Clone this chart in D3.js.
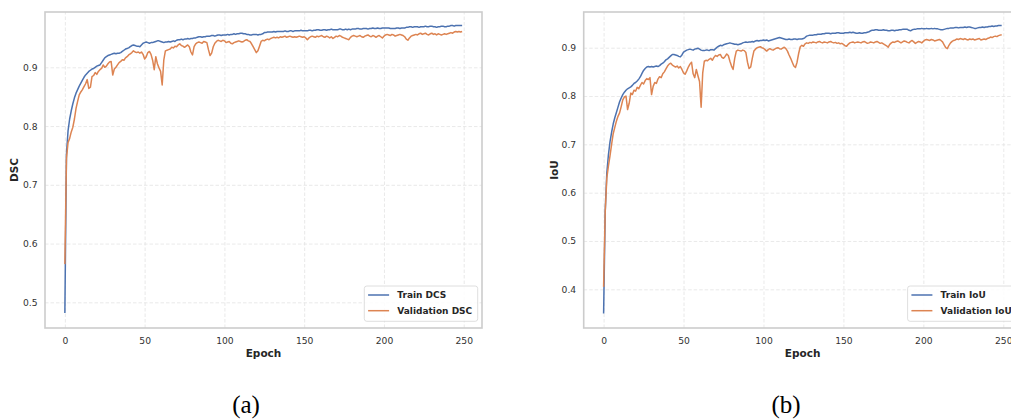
<!DOCTYPE html>
<html>
<head>
<meta charset="utf-8">
<script src="https://cdn.jsdelivr.net/npm/d3@7"></script>
<style>
  body { margin: 0; background: #fff; }
  svg { display: block; }
</style>
</head>
<body>
<div id="chart"></div>
<script>
// Per-epoch curves (250 epochs, 0..249)
const trainDSC = [
  0.482, 0.752, 0.792, 0.812, 0.826, 0.838, 0.848, 0.856, 0.862, 0.868,
  0.873, 0.878, 0.883, 0.887, 0.890, 0.893, 0.895, 0.897, 0.898, 0.900,
  0.902, 0.903, 0.904, 0.908, 0.912, 0.916, 0.918, 0.920, 0.921, 0.922,
  0.923, 0.924, 0.923, 0.924, 0.924, 0.925, 0.927, 0.929, 0.931, 0.932,
  0.933, 0.935, 0.937, 0.938, 0.937, 0.936, 0.936, 0.935, 0.938, 0.941,
  0.942, 0.943, 0.942, 0.941, 0.942, 0.942, 0.943, 0.944, 0.945, 0.945,
  0.944, 0.943, 0.942, 0.943, 0.943, 0.944, 0.943, 0.944, 0.945, 0.944,
  0.946, 0.947, 0.947, 0.948, 0.947, 0.948, 0.948, 0.949, 0.948, 0.949,
  0.949, 0.950, 0.950, 0.951, 0.952, 0.952, 0.951, 0.952, 0.952, 0.953,
  0.953, 0.953, 0.954, 0.954, 0.953, 0.954, 0.955, 0.955, 0.954, 0.955,
  0.955, 0.955, 0.956, 0.955, 0.956, 0.956, 0.957, 0.956, 0.957, 0.957,
  0.958, 0.958, 0.957, 0.957, 0.956, 0.956, 0.955, 0.955, 0.956, 0.956,
  0.956, 0.955, 0.956, 0.956, 0.957, 0.959, 0.959, 0.960, 0.960, 0.960,
  0.960, 0.961, 0.960, 0.961, 0.961, 0.961, 0.961, 0.961, 0.962, 0.961,
  0.961, 0.962, 0.962, 0.961, 0.962, 0.962, 0.962, 0.962, 0.963, 0.962,
  0.962, 0.962, 0.962, 0.963, 0.963, 0.962, 0.963, 0.963, 0.964, 0.964,
  0.963, 0.963, 0.964, 0.964, 0.963, 0.964, 0.964, 0.965, 0.964, 0.964,
  0.964, 0.964, 0.965, 0.965, 0.964, 0.964, 0.965, 0.964, 0.965, 0.964,
  0.965, 0.965, 0.965, 0.966, 0.966, 0.965, 0.965, 0.966, 0.966, 0.966,
  0.965, 0.966, 0.966, 0.967, 0.966, 0.966, 0.967, 0.966, 0.966, 0.967,
  0.967, 0.967, 0.967, 0.967, 0.966, 0.966, 0.966, 0.966, 0.967, 0.967,
  0.966, 0.967, 0.967, 0.967, 0.968, 0.968, 0.969, 0.969, 0.968, 0.969,
  0.969, 0.969, 0.968, 0.969, 0.969, 0.969, 0.970, 0.969, 0.969, 0.970,
  0.970, 0.969, 0.969, 0.968, 0.969, 0.969, 0.970, 0.970, 0.969, 0.969,
  0.970, 0.970, 0.971, 0.971, 0.970, 0.971, 0.971, 0.971, 0.971, 0.971
];
const valDSC = [
  0.565, 0.745, 0.772, 0.779, 0.790, 0.798, 0.812, 0.830, 0.842, 0.853,
  0.858, 0.862, 0.867, 0.872, 0.879, 0.864, 0.866, 0.884, 0.886, 0.891,
  0.888, 0.893, 0.896, 0.898, 0.904, 0.900, 0.902, 0.906, 0.909, 0.910,
  0.887, 0.897, 0.900, 0.904, 0.908, 0.910, 0.913, 0.912, 0.916, 0.918,
  0.921, 0.923, 0.925, 0.928, 0.926, 0.925, 0.926, 0.924, 0.926, 0.922,
  0.914, 0.918, 0.925, 0.927, 0.922, 0.912, 0.896, 0.918, 0.906, 0.899,
  0.893, 0.870, 0.912, 0.928, 0.929, 0.930, 0.931, 0.934, 0.933, 0.936,
  0.935, 0.938, 0.940, 0.937, 0.936, 0.934, 0.936, 0.938, 0.935, 0.926,
  0.921, 0.935, 0.940, 0.942, 0.943, 0.942, 0.941, 0.944, 0.943, 0.942,
  0.930, 0.920, 0.924, 0.935, 0.941, 0.944, 0.946, 0.945, 0.944, 0.946,
  0.945, 0.942, 0.943, 0.944, 0.941, 0.940, 0.942, 0.943, 0.944, 0.945,
  0.944, 0.943, 0.944, 0.946, 0.947, 0.945, 0.944, 0.940, 0.935, 0.930,
  0.925, 0.928, 0.936, 0.944, 0.946, 0.945, 0.947, 0.948, 0.947, 0.949,
  0.950, 0.951, 0.950, 0.951, 0.950, 0.952, 0.951, 0.952, 0.953, 0.951,
  0.952, 0.953, 0.952, 0.951, 0.952, 0.951, 0.952, 0.953, 0.952, 0.951,
  0.952, 0.950, 0.947, 0.950, 0.952, 0.953, 0.952, 0.951, 0.953, 0.952,
  0.953, 0.954, 0.952, 0.951, 0.953, 0.952, 0.950, 0.952, 0.949, 0.951,
  0.953, 0.952, 0.954, 0.953, 0.951, 0.950, 0.949, 0.948, 0.947, 0.951,
  0.953, 0.954, 0.953, 0.952, 0.953, 0.954, 0.952, 0.951, 0.953, 0.954,
  0.955, 0.953, 0.952, 0.954, 0.953, 0.951, 0.953, 0.954, 0.952, 0.950,
  0.953, 0.955, 0.956, 0.955, 0.954, 0.956, 0.955, 0.953, 0.954, 0.955,
  0.956, 0.955, 0.954, 0.952, 0.948, 0.946, 0.950, 0.953, 0.954, 0.955,
  0.956, 0.955, 0.957, 0.958, 0.956, 0.957, 0.958, 0.956, 0.955, 0.957,
  0.958, 0.956, 0.957, 0.955, 0.957, 0.956, 0.955, 0.956, 0.957, 0.956,
  0.957, 0.958, 0.959, 0.958, 0.960, 0.961, 0.960, 0.961, 0.960, 0.961
];
const trainIoU = [
  0.350, 0.560, 0.640, 0.678, 0.705, 0.725, 0.742, 0.755, 0.766, 0.777,
  0.788, 0.796, 0.803, 0.808, 0.812, 0.815, 0.817, 0.819, 0.822, 0.826,
  0.828, 0.831, 0.835, 0.840, 0.847, 0.853, 0.857, 0.860, 0.861, 0.860,
  0.861, 0.860, 0.861, 0.862, 0.861, 0.863, 0.866, 0.868, 0.871, 0.875,
  0.877, 0.880, 0.883, 0.886, 0.886, 0.885, 0.884, 0.882, 0.881, 0.885,
  0.891, 0.893, 0.895, 0.896, 0.897, 0.896, 0.895, 0.897, 0.898, 0.899,
  0.897, 0.895, 0.894, 0.894, 0.895, 0.895, 0.894, 0.896, 0.896, 0.895,
  0.898, 0.901, 0.903, 0.905, 0.904, 0.906, 0.907, 0.908, 0.909, 0.910,
  0.909, 0.908, 0.907, 0.907, 0.906, 0.907, 0.908, 0.910, 0.911, 0.912,
  0.911, 0.912, 0.912, 0.913, 0.912, 0.914, 0.915, 0.914, 0.915, 0.915,
  0.916, 0.915, 0.916, 0.914, 0.915, 0.916, 0.917, 0.918, 0.919, 0.920,
  0.921, 0.920, 0.919, 0.918, 0.917, 0.917, 0.918, 0.917, 0.917, 0.918,
  0.918, 0.917, 0.918, 0.918, 0.918, 0.919, 0.921, 0.924, 0.925, 0.926,
  0.926, 0.926, 0.927, 0.927, 0.928, 0.928, 0.928, 0.929, 0.929, 0.930,
  0.930, 0.930, 0.929, 0.930, 0.930, 0.930, 0.931, 0.931, 0.930, 0.930,
  0.930, 0.931, 0.931, 0.931, 0.932, 0.931, 0.932, 0.931, 0.930, 0.930,
  0.931, 0.930, 0.930, 0.931, 0.931, 0.932, 0.933, 0.935, 0.936, 0.936,
  0.937, 0.937, 0.936, 0.936, 0.936, 0.937, 0.936, 0.936, 0.935, 0.935,
  0.936, 0.936, 0.935, 0.936, 0.936, 0.937, 0.937, 0.938, 0.938, 0.938,
  0.938, 0.936, 0.935, 0.937, 0.938, 0.938, 0.939, 0.939, 0.939, 0.940,
  0.939, 0.939, 0.940, 0.939, 0.939, 0.940, 0.939, 0.940, 0.939, 0.939,
  0.938, 0.937, 0.937, 0.938, 0.939, 0.940, 0.940, 0.941, 0.941, 0.941,
  0.942, 0.942, 0.941, 0.942, 0.942, 0.942, 0.943, 0.942, 0.943, 0.943,
  0.942, 0.941, 0.940, 0.940, 0.941, 0.942, 0.942, 0.943, 0.942, 0.943,
  0.943, 0.944, 0.944, 0.945, 0.944, 0.945, 0.945, 0.946, 0.946, 0.946
];
const valIoU = [
  0.405, 0.560, 0.630, 0.655, 0.676, 0.700, 0.722, 0.735, 0.748, 0.758,
  0.765, 0.778, 0.792, 0.798, 0.800, 0.772, 0.785, 0.806, 0.803, 0.812,
  0.810, 0.818, 0.815, 0.822, 0.828, 0.825, 0.832, 0.836, 0.834, 0.838,
  0.803, 0.820, 0.828, 0.826, 0.835, 0.840, 0.838, 0.846, 0.850, 0.856,
  0.862, 0.866, 0.868, 0.864, 0.862, 0.860, 0.862, 0.858, 0.861, 0.855,
  0.848, 0.845, 0.852, 0.860, 0.866, 0.870, 0.846, 0.838, 0.855, 0.842,
  0.830, 0.777, 0.848, 0.872, 0.874, 0.873, 0.876, 0.878, 0.874, 0.880,
  0.884, 0.882, 0.885, 0.886, 0.880, 0.878, 0.882, 0.887, 0.884, 0.872,
  0.862, 0.855, 0.878, 0.893, 0.895, 0.894, 0.893, 0.895, 0.894, 0.890,
  0.870, 0.857, 0.860, 0.878, 0.893, 0.897, 0.900, 0.901, 0.902, 0.900,
  0.899, 0.896, 0.893, 0.896, 0.898, 0.896, 0.895, 0.897, 0.899, 0.900,
  0.898, 0.897, 0.899, 0.901, 0.898, 0.893, 0.885, 0.878, 0.870, 0.862,
  0.859, 0.870, 0.888, 0.902, 0.905, 0.903, 0.908, 0.910, 0.909, 0.911,
  0.910, 0.912, 0.911, 0.910, 0.912, 0.913, 0.911, 0.910, 0.912, 0.911,
  0.910, 0.912, 0.913, 0.911, 0.910, 0.911, 0.909, 0.910, 0.908, 0.909,
  0.907, 0.904, 0.903, 0.907, 0.910, 0.911, 0.912, 0.910, 0.911, 0.912,
  0.911, 0.910, 0.912, 0.913, 0.911, 0.909, 0.910, 0.912, 0.911, 0.910,
  0.912, 0.913, 0.911, 0.909, 0.910, 0.908, 0.906, 0.904, 0.901, 0.907,
  0.910, 0.912, 0.911, 0.913, 0.914, 0.912, 0.910, 0.912, 0.914, 0.913,
  0.911, 0.910, 0.913, 0.915, 0.912, 0.909, 0.911, 0.913, 0.912, 0.910,
  0.913, 0.916, 0.917, 0.916, 0.915, 0.917, 0.916, 0.914, 0.915, 0.916,
  0.917, 0.915, 0.912, 0.906, 0.900, 0.898, 0.905, 0.910, 0.913, 0.915,
  0.916, 0.918, 0.917, 0.919, 0.918, 0.917, 0.919, 0.917, 0.916, 0.918,
  0.917, 0.918, 0.916, 0.917, 0.918, 0.919, 0.916, 0.917, 0.918, 0.917,
  0.919, 0.920, 0.922, 0.921, 0.923, 0.924, 0.923, 0.925, 0.926, 0.927
];

// Tick values shown on the axes
const epochTicks = [0, 50, 100, 150, 200, 250];
const dscTicks = [0.5, 0.6, 0.7, 0.8, 0.9];
const iouTicks = [0.4, 0.5, 0.6, 0.7, 0.8, 0.9];

const width = 1011, height = 420;
const plotTop = 12, plotBottom = 328;
const blue = "#4c72b0", orange = "#dd8452";
const sans = "'DejaVu Sans', sans-serif";

const svg = d3.select("#chart")
              .append("svg")
              .attr("width", width)
              .attr("height", height);

function drawPanel(p) {
    const x = d3.scaleLinear().domain([-12.45, 261.45]).range([p.left, p.right]);
    const y = d3.scaleLinear().domain(p.yDomain).range([plotBottom, plotTop]);
    const g = svg.append("g");

    // dashed grid
    g.append("g")
     .attr("transform", `translate(0,${plotBottom})`)
     .call(d3.axisBottom(x).tickValues(epochTicks).tickSize(-(plotBottom - plotTop)).tickFormat(""))
     .call(a => a.select(".domain").remove());
    g.append("g")
     .attr("transform", `translate(${p.left},0)`)
     .call(d3.axisLeft(y).tickValues(p.yTicks).tickSize(-(p.right - p.left)).tickFormat(""))
     .call(a => a.select(".domain").remove());
    g.selectAll(".tick line")
     .attr("stroke", "#e3e3e3")
     .attr("stroke-width", 0.8)
     .attr("stroke-dasharray", "3.5,2");

    // tick labels
    const xa = g.append("g")
                .attr("transform", `translate(0,${plotBottom})`)
                .call(d3.axisBottom(x).tickValues(epochTicks).tickSize(0).tickPadding(9.5));
    const ya = g.append("g")
                .attr("transform", `translate(${p.left},0)`)
                .call(d3.axisLeft(y).tickValues(p.yTicks).tickSize(0).tickPadding(7.5)
                      .tickFormat(d3.format(".1f")));
    [xa, ya].forEach(a => {
        a.select(".domain").remove();
        a.selectAll("text")
         .attr("fill", "#333")
         .style("font-family", sans)
         .style("font-size", "9.2px");
    });

    // curves
    const line = d3.line().x((d, i) => x(i)).y(d => y(d));
    [[p.train, blue], [p.val, orange]].forEach(([vals, c]) => {
        g.append("path")
         .datum(vals)
         .attr("fill", "none")
         .attr("stroke", c)
         .attr("stroke-width", 1.5)
         .attr("stroke-linejoin", "round")
         .attr("d", line);
    });

    // axes frame
    g.append("rect")
     .attr("x", p.left).attr("y", plotTop)
     .attr("width", p.right - p.left).attr("height", plotBottom - plotTop)
     .attr("fill", "none")
     .attr("stroke", "#cccccc")
     .attr("stroke-width", 1.6);

    // axis titles
    g.append("text")
     .attr("x", (p.left + p.right) / 2).attr("y", 357)
     .attr("text-anchor", "middle")
     .attr("fill", "#262626")
     .style("font-family", sans).style("font-size", "10.5px").style("font-weight", "bold")
     .text("Epoch");
    g.append("text")
     .attr("transform", `translate(${p.ylabelX},${(plotTop + plotBottom) / 2}) rotate(-90)`)
     .attr("text-anchor", "middle")
     .attr("fill", "#262626")
     .style("font-family", sans).style("font-size", "10.5px").style("font-weight", "bold")
     .text(p.ylabel);

    // legend (lower right)
    const lg = g.append("g").attr("transform", `translate(${p.right - 4.3 - p.legendW},286)`);
    lg.append("rect")
      .attr("width", p.legendW).attr("height", 35.3)
      .attr("rx", 2.5)
      .attr("fill", "#fff").attr("fill-opacity", 0.85)
      .attr("stroke", "#d6d6d6").attr("stroke-width", 0.8);
    p.names.forEach((name, i) => {
        const yy = 9 + i * 15.7;
        lg.append("line")
          .attr("x1", 3.8).attr("x2", 24.8)
          .attr("y1", yy).attr("y2", yy)
          .attr("stroke", i === 0 ? blue : orange)
          .attr("stroke-width", 1.5);
        lg.append("text")
          .attr("x", 33).attr("y", yy + 3.3)
          .attr("fill", "#262626")
          .style("font-family", sans).style("font-size", "9px").style("font-weight", "bold")
          .text(name);
    });

    // sub-figure caption
    svg.append("text")
       .attr("x", p.captionX).attr("y", 413)
       .attr("text-anchor", "middle")
       .attr("fill", "#000")
       .style("font-family", "'Liberation Serif', serif")
       .style("font-size", "25px")
       .text(p.caption);
}

drawPanel({
    left: 45, right: 482,
    yDomain: [0.4563, 0.9941], yTicks: dscTicks,
    train: trainDSC, val: valDSC,
    ylabel: "DSC", ylabelX: 18,
    names: ["Train DCS", "Validation DSC"], legendW: 113.4,
    caption: "(a)", captionX: 246
});

drawPanel({
    left: 583.7, right: 1021.6,
    yDomain: [0.3199, 0.9739], yTicks: iouTicks,
    train: trainIoU, val: valIoU,
    ylabel: "IoU", ylabelX: 557.5,
    names: ["Train IoU", "Validation IoU"], legendW: 109.7,
    caption: "(b)", captionX: 786
});
</script>
</body>
</html>
